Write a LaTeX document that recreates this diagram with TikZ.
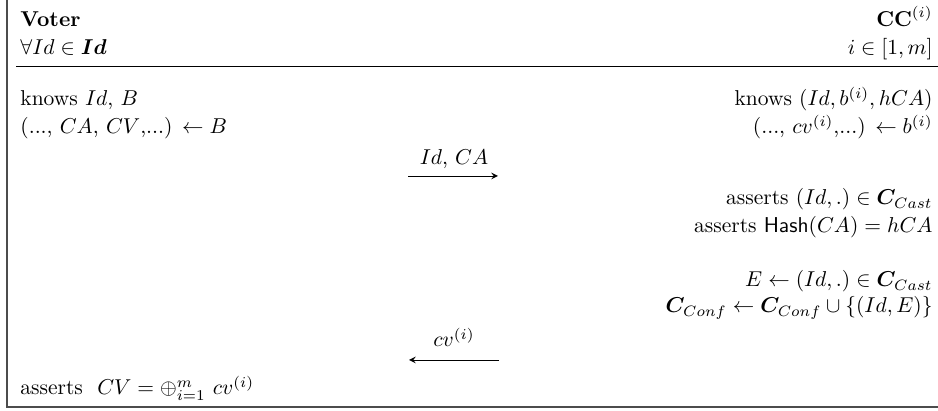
\documentclass[tikz,border=0pt]{standalone}
\usepackage{amsmath,amssymb,bm}
\begin{document}
\begin{tikzpicture}[x=0.4651pt,y=-0.4651pt,
  lt/.style={anchor=base west,inner sep=0pt},
  rt/.style={anchor=base east,inner sep=0pt},
  lbl/.style={anchor=base,inner sep=0pt},
  msg/.style={-stealth,line width=0.4pt},
  frameline/.style={draw=black!70,line width=0.7pt}]
\useasboundingbox (0,0) rectangle (938,411);
\draw[frameline] (7,0) -- (7,407) -- (938,407);
\draw[line width=0.45pt] (16,66) -- (938,66);
% header
\node[lt] (voter) at (20,27) {\textbf{Voter}};
\node[lt] (forall) at (20,55) {$\forall Id\in\bm{Id}$};
\node[rt] (cc) at (933,27) {$\mathbf{CC}^{(i)}$};
\node[rt] (range) at (933,55) {$i\in[1,m]$};
% voter side
\node[lt] (vk) at (20,106) {knows $Id$, $B$};
\node[lt] (vb) at (20,134) {(..., $CA$, $CV$,...) $\leftarrow B$};
\node[lt] (vc) at (20,395) {asserts\ \ $CV=\oplus_{i=1}^{m}\ cv^{(i)}$};
% CC side
\node[rt] (ck) at (933,106) {knows $(Id,b^{(i)},hCA)$};
\node[rt] (cb) at (933,134) {(..., $cv^{(i)}$,...) $\leftarrow b^{(i)}$};
\node[rt] (ca1) at (933,205) {asserts $(Id,.)\in\bm{C}_{Cast}$};
\node[rt] (ca2) at (933,233) {asserts $\mathsf{Hash}(CA)=hCA$};
\node[rt] (ce) at (933,287) {$E\leftarrow(Id,.)\in\bm{C}_{Cast}$};
\node[rt] (cu) at (933,313) {$\bm{C}_{Conf}\leftarrow\bm{C}_{Conf}\cup\{(Id,E)\}$};
% messages
\coordinate (m1s) at (408,176);
\coordinate (m1e) at (498,176);
\draw[msg] (m1s) -- (m1e);
\node[lbl] (m1l) at (454,165) {$Id$, $CA$};
\coordinate (m2s) at (499,360);
\coordinate (m2e) at (409,360);
\draw[msg] (m2s) -- (m2e);
\node[lbl] (m2l) at (454,347) {$cv^{(i)}$};
\end{tikzpicture}
\end{document}
